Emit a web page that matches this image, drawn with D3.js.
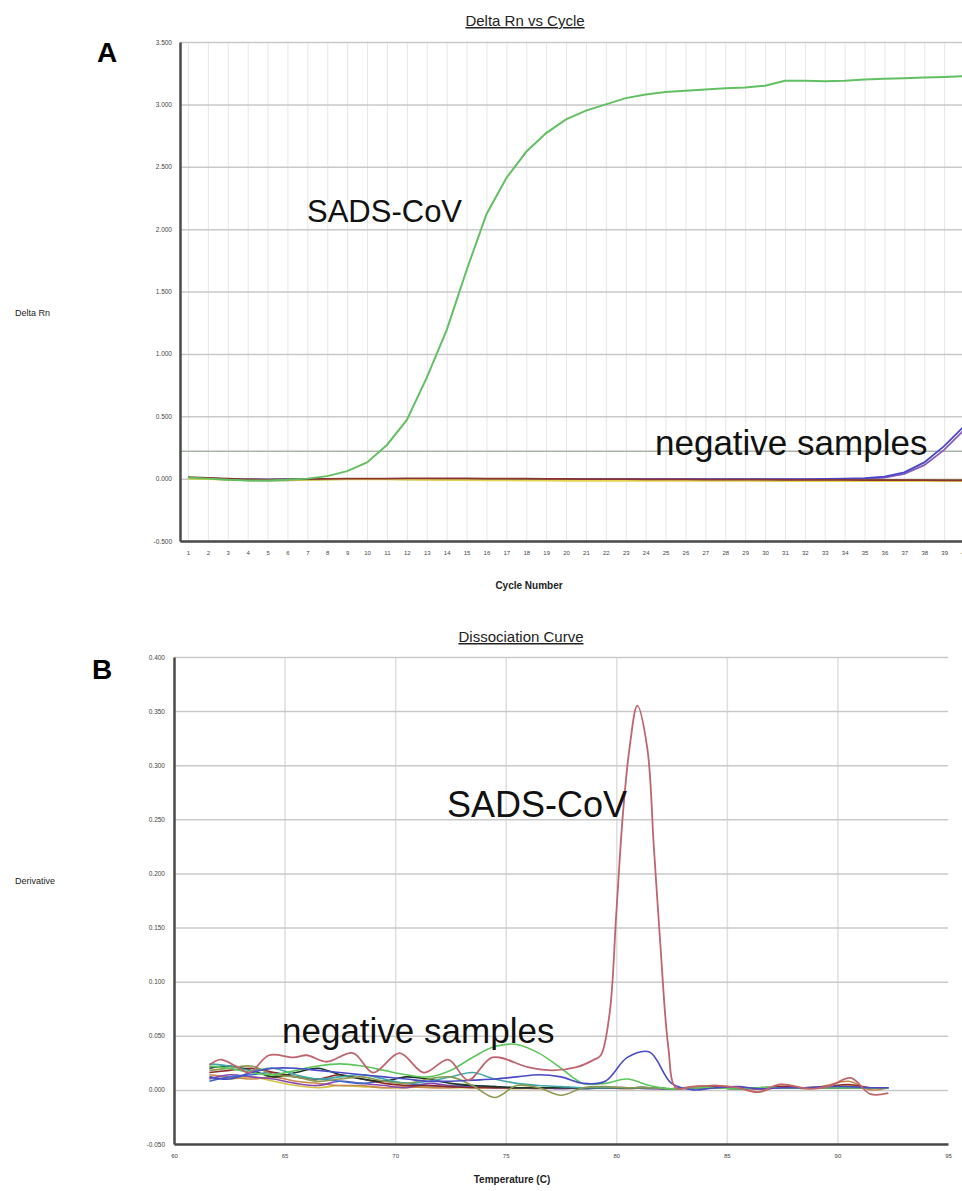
<!DOCTYPE html>
<html>
<head>
<meta charset="utf-8">
<script src="https://cdn.jsdelivr.net/npm/d3@7"></script>
<style>
body { margin: 0; background: #fff; }
svg { display: block; font-family: "Liberation Sans", Arial, sans-serif; }
</style>
</head>
<body>
<svg id="chart" width="962" height="1191"></svg>
<script>
// ---------- panel A: amplification ----------
const cycles = [1,2,3,4,5,6,7,8,9,10,11,12,13,14,15,16,17,18,19,20,21,22,23,24,25,26,27,28,29,30,31,32,33,34,35,36,37,38,39,40];
const rnTicks = [-0.5, 0, 0.5, 1, 1.5, 2, 2.5, 3, 3.5];
const threshold = 0.22;

const sadsRn = [0.01,0.0,-0.01,-0.015,-0.015,-0.01,0.0,0.02,0.06,0.13,0.27,0.47,0.81,1.19,1.67,2.12,2.41,2.62,2.77,2.88,2.95,3.0,3.05,3.08,3.10,3.11,3.12,3.13,3.135,3.15,3.19,3.19,3.185,3.19,3.20,3.205,3.21,3.215,3.22,3.225];

// the two late risers are listed first so the flat band shows the warmer colours on top
const negRnA = [
  { color: "#8a5ab8", values: [0.006,0.0,-0.006,-0.008,-0.008,-0.006,-0.004,-0.004,-0.004,-0.004,-0.004,-0.004,-0.004,-0.006,-0.006,-0.006,-0.006,-0.006,-0.006,-0.006,-0.006,-0.006,-0.006,-0.006,-0.006,-0.006,-0.006,-0.006,-0.006,-0.006,-0.006,-0.006,-0.006,-0.006,-0.004,0.008,0.038,0.108,0.23,0.39] },
  { color: "#4848c8", values: [0.008,0.002,-0.004,-0.006,-0.008,-0.006,-0.004,-0.004,-0.004,-0.004,-0.004,-0.004,-0.004,-0.004,-0.004,-0.004,-0.004,-0.004,-0.004,-0.004,-0.004,-0.004,-0.004,-0.004,-0.004,-0.004,-0.004,-0.004,-0.004,-0.004,-0.004,-0.004,-0.002,0.0,0.004,0.016,0.05,0.13,0.26,0.42] },
  { color: "#7d8c3c", values: [0.004,-0.002,-0.008,-0.014,-0.016,-0.014,-0.01,-0.006,-0.004,-0.004,-0.004,-0.006,-0.006,-0.006,-0.006,-0.008,-0.008,-0.01,-0.01,-0.01,-0.012,-0.012,-0.012,-0.012,-0.012,-0.012,-0.01,-0.01,-0.01,-0.01,-0.01,-0.01,-0.01,-0.01,-0.01,-0.01,-0.01,-0.012,-0.012,-0.012] },
  { color: "#e2d44e", values: [0.0,-0.004,-0.008,-0.01,-0.012,-0.012,-0.01,-0.008,-0.006,-0.006,-0.006,-0.008,-0.01,-0.012,-0.012,-0.014,-0.014,-0.016,-0.016,-0.018,-0.018,-0.018,-0.018,-0.018,-0.018,-0.018,-0.018,-0.018,-0.018,-0.02,-0.02,-0.02,-0.02,-0.02,-0.02,-0.02,-0.02,-0.02,-0.02,-0.02] },
  { color: "#8a3434", values: [0.012,0.006,0.0,-0.006,-0.008,-0.006,-0.004,-0.002,0,0,0,0.002,0.002,0.002,0.002,0,0,0,-0.002,-0.002,-0.004,-0.004,-0.004,-0.006,-0.006,-0.006,-0.008,-0.008,-0.008,-0.008,-0.01,-0.01,-0.01,-0.01,-0.012,-0.012,-0.012,-0.012,-0.014,-0.014] }
];

// ---------- panel B: melt curve ----------
const tempTicks = [60, 65, 70, 75, 80, 85, 90, 95];
const derivTicks = [-0.05, 0, 0.05, 0.1, 0.15, 0.2, 0.25, 0.3, 0.35, 0.4];

const sadsTemp = [61.6,62.1,62.8,63.4,64.3,65.4,66.0,66.9,68.1,69.0,70.2,71.3,72.4,73.3,74.4,76.0,77.1,78.2,79.0,79.3,79.7,80.0,80.3,80.6,80.95,81.4,81.7,82.0,82.35,82.7,83.5,84.5,85.5,86.4,87.4,88.8,89.7,90.6,91.5,92.3];
const sadsDeriv = [0.023,0.028,0.022,0.016,0.032,0.030,0.032,0.026,0.034,0.016,0.034,0.016,0.028,0.009,0.030,0.021,0.018,0.021,0.028,0.032,0.071,0.163,0.255,0.316,0.355,0.316,0.224,0.132,0.040,0.002,0.003,0.004,0.002,-0.002,0.005,0.001,0.004,0.011,-0.004,-0.003];

const negTemp = [61.6,62.5,63.5,64.5,65.5,66.5,67.5,68.5,69.5,70.5,71.5,72.5,73.5,74.5,75.5,76.5,77.5,78.5,79.5,80.5,81.5,82.5,83.5,84.5,85.5,86.5,87.5,88.5,89.5,90.5,91.5,92.3];
const negDeriv = [
  { color: "#d4c244", values: [0.012,0.010,0.012,0.008,0.004,0.002,0.004,0.003,0.002,0.002,0.003,0.002,0.002,0.002,0.001,0.002,0.002,0.001,0.002,0.002,0.002,0.001,0.002,0.003,0.002,0.001,0.003,0.002,0.003,0.004,0.002,0.002] },
  { color: "#c8884a", values: [0.014,0.012,0.010,0.012,0.008,0.006,0.004,0.004,0.002,0.003,0.002,0.002,0.003,0.002,0.002,0.001,0.002,0.002,0.002,0.001,0.002,0.001,0.003,0.004,0.002,-0.002,0.005,0.001,0.004,0.008,0.0,0.002] },
  { color: "#8848b0", values: [0.010,0.014,0.012,0.010,0.006,0.004,0.008,0.006,0.004,0.002,0.006,0.004,0.003,0.002,0.002,0.002,0.001,0.002,0.002,0.002,0.001,0.001,0.002,0.002,0.002,0.001,0.002,0.002,0.002,0.002,0.002,0.002] },
  { color: "#3a68d0", values: [0.008,0.012,0.014,0.016,0.012,0.010,0.008,0.006,0.008,0.006,0.004,0.003,0.004,0.003,0.002,0.002,0.002,0.001,0.002,0.002,0.002,0.001,0.002,0.002,0.001,0.002,0.002,0.002,0.002,0.002,0.002,0.002] },
  { color: "#902828", values: [0.016,0.018,0.020,0.016,0.012,0.010,0.014,0.010,0.006,0.004,0.004,0.003,0.002,0.002,0.002,0.002,0.002,0.002,0.002,0.002,0.002,0.001,0.002,0.003,0.002,0.001,0.003,0.002,0.003,0.005,0.002,0.002] },
  { color: "#1f3526", values: [0.020,0.022,0.018,0.012,0.016,0.020,0.014,0.010,0.008,0.012,0.010,0.006,0.004,0.003,0.002,0.002,0.002,0.002,0.002,0.002,0.002,0.001,0.002,0.002,0.001,0.002,0.002,0.002,0.002,0.002,0.002,0.002] },
  { color: "#40a8a8", values: [0.024,0.022,0.018,0.020,0.014,0.010,0.012,0.014,0.010,0.006,0.008,0.012,0.016,0.010,0.006,0.004,0.003,0.002,0.002,0.002,0.002,0.001,0.002,0.002,0.001,0.002,0.002,0.002,0.002,0.002,0.002,0.002] },
  { color: "#8c9a50", values: [0.018,0.020,0.022,0.014,0.012,0.008,0.010,0.012,0.008,0.006,0.010,0.012,0.004,-0.007,0.004,0.002,-0.005,0.002,0.003,0.002,0.002,0.001,0.002,0.002,0.001,0.002,0.002,0.002,0.002,0.002,0.002,0.002] },
  { color: "#5cc85c", values: [0.022,0.020,0.016,0.014,0.018,0.022,0.024,0.022,0.018,0.014,0.012,0.018,0.030,0.040,0.042,0.034,0.020,0.006,0.006,0.010,0.004,0.001,0.002,0.002,0.001,0.002,0.002,0.002,0.002,0.002,0.002,0.002] },
  { color: "#4a4ac8", values: [0.012,0.010,0.016,0.020,0.020,0.018,0.016,0.014,0.012,0.010,0.008,0.008,0.009,0.010,0.012,0.014,0.012,0.006,0.008,0.030,0.035,0.006,0.000,0.002,0.003,0.001,0.002,0.002,0.003,0.003,0.002,0.002] }
];

const svg = d3.select("#chart");
const fmt3 = d => d.toFixed(3);

function drawPanel(opt) {
  const g = svg.append("g");
  const x = opt.x, y = opt.y;
  const [x0, x1] = x.range();
  const [y1, y0] = y.range();

  // vertical grid
  g.append("g")
    .attr("transform", `translate(0,${y1})`)
    .call(d3.axisBottom(x).tickValues(opt.vGrid).tickSize(-(y1 - y0)).tickFormat(""))
    .call(a => a.select(".domain").remove())
    .call(a => a.selectAll("line").attr("stroke", opt.vGridColor).attr("stroke-width", opt.vGridWidth));

  // horizontal grid
  g.append("g")
    .attr("transform", `translate(${x0},0)`)
    .call(d3.axisLeft(y).tickValues(opt.yTicks).tickSize(-(x1 - x0)).tickFormat(""))
    .call(a => a.select(".domain").remove())
    .call(a => a.selectAll("line").attr("stroke", "#c9c9c9").attr("stroke-width", 1.5));

  return g;
}

// ---------- panel A ----------
const xA = d3.scaleLinear().domain([0.6, 40.5]).range([180, 974]);
const yA = d3.scaleLinear().domain([-0.5, 3.5]).range([541, 42]);

const gA = drawPanel({ x: xA, y: yA, vGrid: cycles, vGridColor: "#e6e6e6", vGridWidth: 1, yTicks: rnTicks });

gA.append("line")
  .attr("x1", xA.range()[0]).attr("x2", xA.range()[1])
  .attr("y1", yA(threshold)).attr("y2", yA(threshold))
  .attr("stroke", "#a9b5a9").attr("stroke-width", 1.5);

const lineA = d3.line().x((d, i) => xA(cycles[i])).y(d => yA(d));
negRnA.forEach(s => {
  gA.append("path").datum(s.values)
    .attr("fill", "none").attr("stroke", s.color).attr("stroke-width", 1.8)
    .attr("d", lineA);
});
gA.append("path").datum(sadsRn)
  .attr("fill", "none").attr("stroke", "#62c062").attr("stroke-width", 2)
  .attr("d", lineA);

gA.append("g")
  .attr("transform", "translate(180,0)")
  .call(d3.axisLeft(yA).tickValues(rnTicks).tickSize(0).tickPadding(8).tickFormat(fmt3))
  .call(a => a.select(".domain").attr("stroke", "#4a4a4a").attr("stroke-width", 2.5))
  .call(a => a.selectAll("text").attr("font-size", 6.5).attr("fill", "#444"));

gA.append("g")
  .attr("transform", "translate(0,541)")
  .call(d3.axisBottom(xA).tickValues(cycles).tickSize(0).tickSizeOuter(0).tickPadding(10).tickFormat(d3.format("d")))
  .call(a => a.select(".domain").attr("stroke", "#4a4a4a").attr("stroke-width", 2.5))
  .call(a => a.selectAll("text").attr("font-size", 6).attr("fill", "#444"));

svg.append("text").attr("x", 525).attr("y", 26).attr("text-anchor", "middle")
  .attr("font-size", 15).attr("text-decoration", "underline").attr("fill", "#222")
  .text("Delta Rn vs Cycle");
svg.append("text").attr("x", 97).attr("y", 62).attr("font-size", 28).attr("font-weight", "bold").text("A");
svg.append("text").attr("x", 15).attr("y", 316).attr("font-size", 9).attr("fill", "#222").text("Delta Rn");
svg.append("text").attr("x", 529).attr("y", 589).attr("text-anchor", "middle")
  .attr("font-size", 10).attr("font-weight", "bold").attr("fill", "#222").text("Cycle Number");
svg.append("text").attr("x", 307).attr("y", 222).attr("font-size", 31).attr("fill", "#111").text("SADS-CoV");
svg.append("text").attr("x", 655).attr("y", 455).attr("font-size", 35).attr("fill", "#111").text("negative samples");

// ---------- panel B ----------
const xB = d3.scaleLinear().domain([60, 95]).range([174, 948]);
const yB = d3.scaleLinear().domain([-0.05, 0.4]).range([1144, 657]);

const gB = drawPanel({ x: xB, y: yB, vGrid: [65, 70, 75, 80, 85, 90], vGridColor: "#dedede", vGridWidth: 1.5, yTicks: derivTicks });

const lineNeg = d3.line().curve(d3.curveCatmullRom).x((d, i) => xB(negTemp[i])).y(d => yB(d));
negDeriv.forEach(s => {
  gB.append("path").datum(s.values)
    .attr("fill", "none").attr("stroke", s.color).attr("stroke-width", 1.6)
    .attr("d", lineNeg);
});
const lineSads = d3.line().curve(d3.curveCatmullRom).x((d, i) => xB(sadsTemp[i])).y(d => yB(d));
gB.append("path").datum(sadsDeriv)
  .attr("fill", "none").attr("stroke", "#c0646e").attr("stroke-width", 1.8)
  .attr("d", lineSads);

gB.append("g")
  .attr("transform", "translate(174,0)")
  .call(d3.axisLeft(yB).tickValues(derivTicks).tickSize(0).tickPadding(9).tickFormat(fmt3))
  .call(a => a.select(".domain").attr("stroke", "#4a4a4a").attr("stroke-width", 2.5))
  .call(a => a.selectAll("text").attr("font-size", 6.5).attr("fill", "#444"));

gB.append("g")
  .attr("transform", "translate(0,1144)")
  .call(d3.axisBottom(xB).tickValues(tempTicks).tickSize(0).tickSizeOuter(0).tickPadding(10).tickFormat(d3.format("d")))
  .call(a => a.select(".domain").attr("stroke", "#4a4a4a").attr("stroke-width", 2.5))
  .call(a => a.selectAll("text").attr("font-size", 6).attr("fill", "#444"));

svg.append("text").attr("x", 521).attr("y", 642).attr("text-anchor", "middle")
  .attr("font-size", 15).attr("text-decoration", "underline").attr("fill", "#222")
  .text("Dissociation Curve");
svg.append("text").attr("x", 92).attr("y", 679).attr("font-size", 28).attr("font-weight", "bold").text("B");
svg.append("text").attr("x", 15).attr("y", 884).attr("font-size", 9).attr("fill", "#222").text("Derivative");
svg.append("text").attr("x", 512).attr("y", 1183).attr("text-anchor", "middle")
  .attr("font-size", 10).attr("font-weight", "bold").attr("fill", "#222").text("Temperature (C)");
svg.append("text").attr("x", 447).attr("y", 817).attr("font-size", 36).attr("fill", "#111").text("SADS-CoV");
svg.append("text").attr("x", 282).attr("y", 1043).attr("font-size", 35).attr("fill", "#111").text("negative samples");
</script>
</body>
</html>
